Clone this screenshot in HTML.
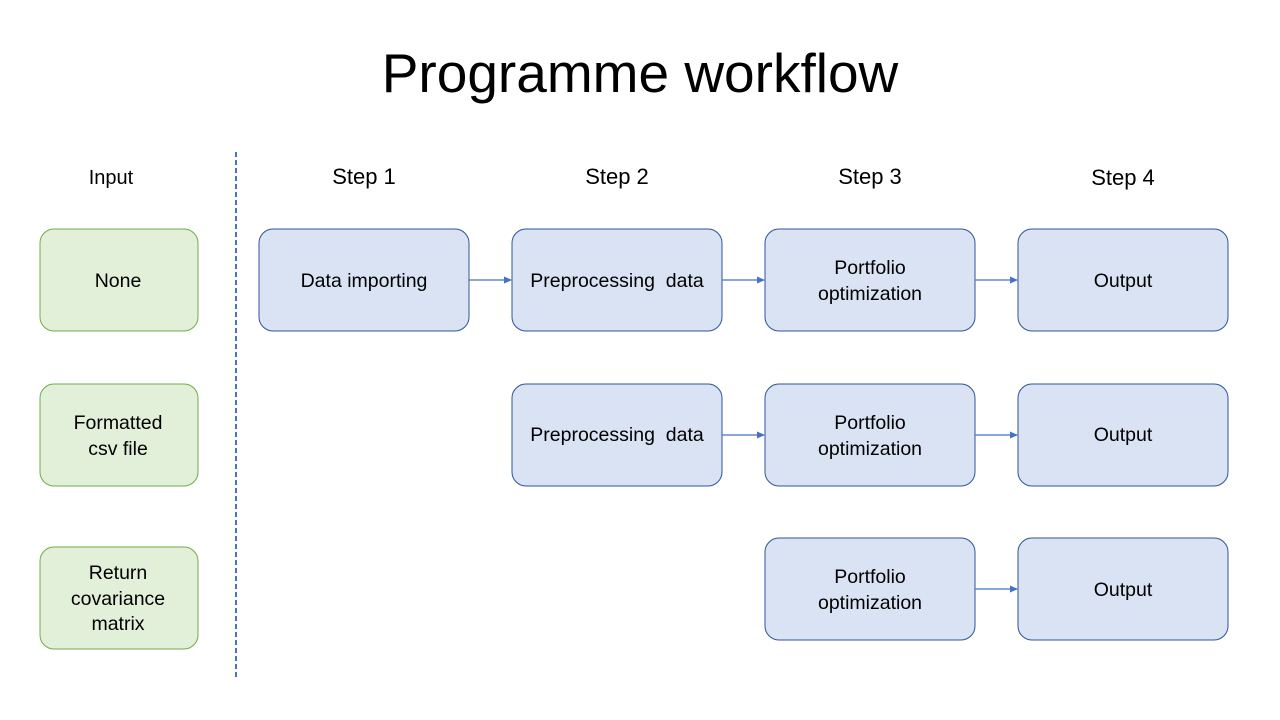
<!DOCTYPE html>
<html><head><meta charset="utf-8"><style>
html,body{margin:0;padding:0;background:#fff;}
svg{display:block;}
text{font-family:"Liberation Sans",sans-serif;fill:#000;}
</style></head><body>
<svg width="1280" height="720" viewBox="0 0 1280 720" xmlns="http://www.w3.org/2000/svg">
<defs>
<marker id="a" markerWidth="8" markerHeight="8" refX="7" refY="4" orient="auto" markerUnits="userSpaceOnUse">
<path d="M0,0.5 L8,4 L0,7.5 z" fill="#4472c4"/></marker>
</defs>
<text x="640" y="92" font-size="55" text-anchor="middle">Programme workflow</text>
<line x1="236" y1="152" x2="236" y2="678" stroke="#4472c4" stroke-width="2" stroke-dasharray="5,3"/>
<g font-size="22" text-anchor="middle">
<text x="111" y="184" font-size="20">Input</text>
<text x="364" y="184">Step 1</text>
<text x="617" y="184">Step 2</text>
<text x="870" y="184">Step 3</text>
<text x="1123" y="185">Step 4</text>
</g>
<g fill="#e2efd9" stroke="#70ad47" stroke-width="1">
<rect x="40" y="229" width="158" height="102" rx="14"/>
<rect x="40" y="384" width="158" height="102" rx="14"/>
<rect x="40" y="547" width="158" height="102" rx="14"/>
</g>
<g fill="#dae3f3" stroke="#2f5597" stroke-width="1">
<rect x="259" y="229" width="210" height="102" rx="14"/>
<rect x="512" y="229" width="210" height="102" rx="14"/>
<rect x="765" y="229" width="210" height="102" rx="14"/>
<rect x="1018" y="229" width="210" height="102" rx="14"/>
<rect x="512" y="384" width="210" height="102" rx="14"/>
<rect x="765" y="384" width="210" height="102" rx="14"/>
<rect x="1018" y="384" width="210" height="102" rx="14"/>
<rect x="765" y="538" width="210" height="102" rx="14"/>
<rect x="1018" y="538" width="210" height="102" rx="14"/>
</g>
<g stroke="#4472c4" stroke-width="1.2" marker-end="url(#a)">
<line x1="469" y1="280" x2="511" y2="280"/>
<line x1="722" y1="280" x2="764" y2="280"/>
<line x1="975" y1="280" x2="1017" y2="280"/>
<line x1="722" y1="435" x2="764" y2="435"/>
<line x1="975" y1="435" x2="1017" y2="435"/>
<line x1="975" y1="589" x2="1017" y2="589"/>
</g>
<g font-size="19.5" text-anchor="middle">
<text x="118" y="287">None</text>
<text x="118" y="429">Formatted</text>
<text x="118" y="455">csv file</text>
<text x="118" y="579">Return</text>
<text x="118" y="605">covariance</text>
<text x="118" y="630">matrix</text>
<text x="364" y="287">Data importing</text>
<text x="617" y="287" xml:space="preserve">Preprocessing  data</text>
<text x="870" y="274">Portfolio</text>
<text x="870" y="300">optimization</text>
<text x="1123" y="287">Output</text>
<text x="617" y="441" xml:space="preserve">Preprocessing  data</text>
<text x="870" y="429">Portfolio</text>
<text x="870" y="455">optimization</text>
<text x="1123" y="441">Output</text>
<text x="870" y="583">Portfolio</text>
<text x="870" y="609">optimization</text>
<text x="1123" y="596">Output</text>
</g>
</svg>
</body></html>
